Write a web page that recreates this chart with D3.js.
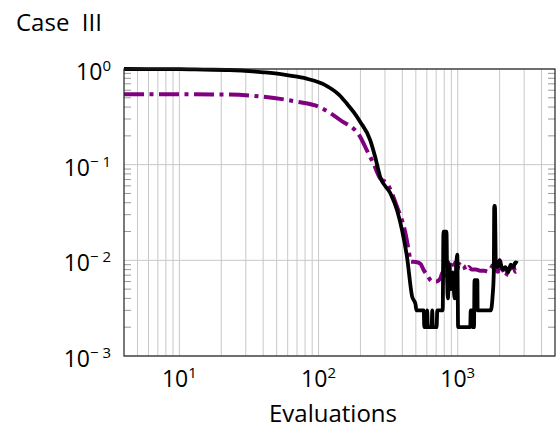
<!DOCTYPE html>
<html>
<head>
<meta charset="utf-8">
<script src="https://cdn.jsdelivr.net/npm/d3@7"></script>
<style>
  body { margin: 0; background: #fff; }
  svg { font-family: "Open Sans", sans-serif; }
</style>
</head>
<body>
<svg width="556" height="430"></svg>
<script>
// data
var title = "Case  III";
var xLabel = "Evaluations";
var xTickExps = [1, 2, 3];
var yTickExps = [0, -1, -2, -3];

var solidEvals = [4, 10, 15, 23, 40, 55, 70, 85, 100, 110, 121, 140, 159, 180, 199, 235, 255, 277, 328, 366, 398, 432, 470, 497, 505, 570, 575, 600, 603, 610, 650, 656, 662, 705, 713, 780, 790, 830, 840, 850, 870, 890, 920, 950, 975, 993, 1000, 1006, 1230, 1240, 1274, 1280, 1309, 1320, 1384, 1390, 1728, 1780, 1816, 1830, 1850, 1880, 1931, 2000, 2100, 2200, 2300, 2400, 2500, 2600, 2692];
var solidErr = [1, 0.995, 0.985, 0.976, 0.924, 0.88, 0.831, 0.782, 0.728, 0.687, 0.633, 0.541, 0.438, 0.35, 0.281, 0.181, 0.121, 0.0748, 0.0502, 0.0336, 0.0207, 0.0109, 0.0042, 0.0035, 0.003, 0.003, 0.002, 0.002, 0.003, 0.002, 0.002, 0.003, 0.002, 0.002, 0.003, 0.003, 0.02, 0.02, 0.006, 0.004, 0.009, 0.005, 0.0075, 0.004, 0.0085, 0.0115, 0.005, 0.002, 0.002, 0.003, 0.003, 0.002, 0.002, 0.0062, 0.0062, 0.003, 0.003, 0.0042, 0.0074, 0.037, 0.037, 0.009, 0.0085, 0.01, 0.008, 0.0085, 0.0075, 0.009, 0.0085, 0.0095, 0.0093];

var dashEvals = [4, 10, 23, 40, 70, 100, 143, 199, 222, 248, 277, 310, 366, 421, 452, 458, 500, 540, 570, 603, 656, 700, 751, 780, 800, 820, 840, 860, 880, 900, 930, 960, 990, 1020, 1060, 1100, 1150, 1200, 1260, 1350, 1450, 1550, 1650, 1750, 1820, 1880, 1950, 2000, 2080, 2150, 2200, 2300, 2400, 2500, 2600, 2692];
var dashErr = [0.544, 0.544, 0.54, 0.513, 0.455, 0.404, 0.293, 0.196, 0.142, 0.103, 0.072, 0.0638, 0.0364, 0.0192, 0.0109, 0.0097, 0.0096, 0.0092, 0.0079, 0.007, 0.006, 0.006, 0.0065, 0.0075, 0.0068, 0.0088, 0.0072, 0.0095, 0.0078, 0.009, 0.0082, 0.0095, 0.0078, 0.0092, 0.0085, 0.0088, 0.0078, 0.0085, 0.008, 0.008, 0.0078, 0.0078, 0.0076, 0.0085, 0.0092, 0.0078, 0.0076, 0.01, 0.0082, 0.0075, 0.0068, 0.0078, 0.0082, 0.0088, 0.0076, 0.0078];

const svg = d3.select("svg");
var mLeft = 124, mRight = 555, mTop = 69, mBottom = 356;

var x = d3.scaleLog().domain([4, 5000]).range([mLeft, mRight]);
var y = d3.scaleLog().domain([1e-3, 1]).range([mBottom, mTop]);

var gridColor = "#c8c8c8";

// x grid, major + minor
var xGridVals = [];
for (var e = 0; e <= 3; e++) {
  for (var m = 1; m <= 9; m++) {
    var v = m * Math.pow(10, e);
    if (v > 4 && v < 5000) xGridVals.push(v);
  }
}
svg.append("g")
  .selectAll("line")
  .data(xGridVals)
  .join("line")
  .attr("x1", d => x(d)).attr("x2", d => x(d))
  .attr("y1", mTop).attr("y2", mBottom)
  .attr("stroke", gridColor)
  .attr("stroke-width", 1);

// y grid, major only
svg.append("g")
  .selectAll("line")
  .data(yTickExps)
  .join("line")
  .attr("x1", mLeft).attr("x2", mRight)
  .attr("y1", d => y(Math.pow(10, d))).attr("y2", d => y(Math.pow(10, d)))
  .attr("stroke", gridColor)
  .attr("stroke-width", 1);

// y minor ticks, both sides, inward
var yMinor = [];
for (var e = -3; e < 0; e++) {
  for (var m = 2; m <= 9; m++) yMinor.push(m * Math.pow(10, e));
}
var tickG = svg.append("g").attr("stroke", "#999").attr("stroke-width", 1);
tickG.selectAll(".yl")
  .data(yMinor)
  .join("line")
  .attr("class", "yl")
  .attr("x1", mLeft).attr("x2", mLeft + 7)
  .attr("y1", d => y(d)).attr("y2", d => y(d));
tickG.selectAll(".yr")
  .data(yMinor)
  .join("line")
  .attr("class", "yr")
  .attr("x1", mRight - 7).attr("x2", mRight)
  .attr("y1", d => y(d)).attr("y2", d => y(d));

// curves
var line = d3.line()
  .x(d => x(d[0]))
  .y(d => y(d[1]))
  .curve(d3.curveMonotoneX);

svg.append("path")
  .datum(dashEvals.map((d, i) => [d, dashErr[i]]))
  .attr("d", line)
  .attr("fill", "none")
  .attr("stroke", "#800080")
  .attr("stroke-width", 4)
  .attr("stroke-dasharray", "20,5.5,4,5.5");

svg.append("path")
  .datum(solidEvals.map((d, i) => [d, solidErr[i]]))
  .attr("d", line)
  .attr("fill", "none")
  .attr("stroke", "#000")
  .attr("stroke-width", 3.8)
  .attr("stroke-linejoin", "round");

// frame
svg.append("rect")
  .attr("x", mLeft).attr("y", mTop)
  .attr("width", mRight - mLeft).attr("height", mBottom - mTop)
  .attr("fill", "none")
  .attr("stroke", "#222")
  .attr("stroke-width", 1.2);

// tick labels
var xl = svg.append("g").selectAll("text")
  .data(xTickExps)
  .join("text")
  .attr("x", d => x(Math.pow(10, d)))
  .attr("y", mBottom + 31)
  .attr("text-anchor", "middle")
  .attr("font-size", 23);
xl.append("tspan").text("10");
xl.append("tspan").attr("dy", -9).attr("font-size", 15).text(d => d);

var yl = svg.append("g").selectAll("text")
  .data(yTickExps)
  .join("text")
  .attr("x", 111)
  .attr("y", d => y(Math.pow(10, d)) + 11)
  .attr("text-anchor", "end")
  .attr("font-size", 23);
yl.append("tspan").text("10");
yl.append("tspan").attr("dy", -9).attr("font-size", 15)
  .text(d => d < 0 ? "\u2212 " + (-d) : d);

svg.append("text")
  .attr("x", 333)
  .attr("y", 422)
  .attr("text-anchor", "middle")
  .attr("font-size", 24)
  .text(xLabel);

svg.append("text")
  .attr("x", 16)
  .attr("y", 31)
  .attr("font-size", 24)
  .style("white-space", "pre")
  .text(title);
</script>
</body>
</html>
